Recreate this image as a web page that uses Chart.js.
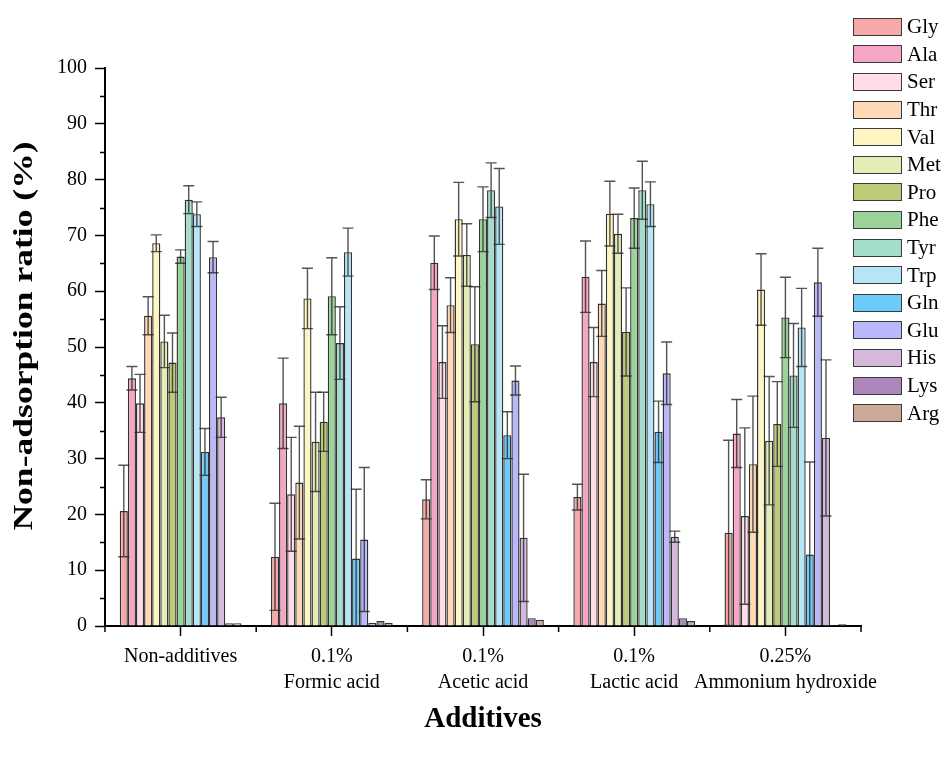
<!DOCTYPE html>
<html lang="en">
<head>
    <meta charset="UTF-8">
    <title>Non-adsorption ratio by additive</title>
    <style>
        body { margin: 0; padding: 0; background: #fff; }
        #wrap { position: relative; width: 944px; height: 765px; }
        #legend { position: absolute; left: 853px; top: 13px; font-family: "Liberation Serif", serif; font-size: 21px; color: #000; }
        .item { display: flex; align-items: center; height: 27.6px; }
        .box { width: 47px; height: 16px; border: 1.5px solid #3a3a3a; margin-right: 5px; }
    </style>
</head>
<body>
<div id="wrap">
    <canvas id="chart" width="944" height="765"></canvas>
    <div id="legend"></div>
</div>
<script src="https://cdn.jsdelivr.net/npm/chart.js"></script>
<script>
// groups on the x axis
const groups = [['Non-additives'], ['0.1%', 'Formic acid'], ['0.1%', 'Acetic acid'], ['0.1%', 'Lactic acid'], ['0.25%', 'Ammonium hydroxide']];
const aminoAcids = ['Gly', 'Ala', 'Ser', 'Thr', 'Val', 'Met', 'Pro', 'Phe', 'Tyr', 'Trp', 'Gln', 'Glu', 'His', 'Lys', 'Arg'];
const colors = ['#f5a9a9', '#f4a6c4', '#ffdce6', '#ffd9b5', '#fff5c2', '#e4edb5', '#bccb7a', '#9bd39a', '#a4ddcc', '#b6e6f5', '#6dcbfa', '#bab8fa', '#d5b8db', '#ac87bc', '#cca898'];

// mean values (%) per group, in amino acid order
const nonAdditives = [20.6, 44.4, 39.9, 55.6, 68.6, 51.0, 47.2, 66.2, 76.4, 73.8, 31.2, 66.1, 37.4, 0.5, 0.5];
const formicAcid   = [12.4, 39.9, 23.6, 25.7, 58.7, 33.0, 36.6, 59.1, 50.7, 67.0, 12.1, 15.5, 0.6, 0.9, 0.6];
const aceticAcid   = [22.7, 65.1, 47.3, 57.5, 72.9, 66.5, 50.5, 72.9, 78.1, 75.2, 34.2, 44.0, 15.8, 1.4, 1.1];
const lacticAcid   = [23.1, 62.6, 47.3, 57.8, 73.9, 70.3, 52.7, 73.1, 78.1, 75.6, 34.8, 45.3, 16.0, 1.4, 0.9];
const ammonium     = [16.7, 34.5, 19.7, 29.0, 60.3, 33.2, 36.2, 55.3, 44.9, 53.5, 12.8, 61.6, 33.7, 0.2, 0.3];

// standard deviations
const nonAdditivesSd = [8.2, 2.1, 5.2, 3.4, 1.5, 4.7, 5.3, 1.2, 2.5, 2.2, 4.2, 2.8, 3.6, 0, 0];
const formicAcidSd   = [9.6, 8.1, 10.2, 10.1, 5.4, 8.9, 5.3, 6.9, 6.5, 4.3, 12.4, 12.9, 0, 0, 0];
const aceticAcidSd   = [3.5, 4.8, 6.5, 4.9, 6.6, 5.6, 10.3, 5.8, 4.9, 6.8, 4.2, 2.6, 11.4, 0, 0];
const lacticAcidSd   = [2.3, 6.4, 6.2, 5.9, 5.8, 3.5, 7.9, 5.4, 5.2, 4.0, 5.5, 5.6, 1.0, 0, 0];
const ammoniumSd     = [16.6, 6.1, 15.8, 12.2, 6.4, 11.5, 7.6, 7.2, 9.3, 7.0, 16.6, 6.1, 14.0, 0, 0];

const means = [nonAdditives, formicAcid, aceticAcid, lacticAcid, ammonium];
const sds = [nonAdditivesSd, formicAcidSd, aceticAcidSd, lacticAcidSd, ammoniumSd];

const serif = 'Liberation Serif';
const yTitleText = 'Non-adsorption ratio (%)';

const datasets = aminoAcids.map((name, i) => ({
    label: name,
    data: means.map(g => g[i]),
    sd: sds.map(g => g[i]),
    backgroundColor: colors[i],
    borderColor: '#333',
    borderWidth: 1.4
}));

// error bars drawn from the dataset sd values
const errorBars = {
    id: 'errorBars',
    afterDatasetsDraw(chart) {
        const ctx = chart.ctx, y = chart.scales.y;
        ctx.save();
        ctx.strokeStyle = 'rgba(40,40,40,0.8)';
        ctx.lineWidth = 1.4;
        chart.data.datasets.forEach((ds, i) => {
            chart.getDatasetMeta(i).data.forEach((bar, j) => {
                const e = ds.sd[j];
                if (!e) return;
                const v = ds.data[j];
                const top = y.getPixelForValue(v + e);
                const bot = y.getPixelForValue(Math.max(v - e, 0));
                ctx.beginPath();
                ctx.moveTo(bar.x, top); ctx.lineTo(bar.x, bot);
                ctx.moveTo(bar.x - 5.5, top); ctx.lineTo(bar.x + 5.5, top);
                ctx.moveTo(bar.x - 5.5, bot); ctx.lineTo(bar.x + 5.5, bot);
                ctx.stroke();
            });
        });
        ctx.restore();
    }
};

// minor ticks on both axes, plus the stretched y title of the original
const extras = {
    id: 'extras',
    afterDraw(chart) {
        const ctx = chart.ctx, x = chart.scales.x, y = chart.scales.y;
        const area = chart.chartArea;
        ctx.save();
        ctx.strokeStyle = '#000';
        ctx.lineWidth = 1.5;
        ctx.beginPath();
        for (let v = 5; v < 100; v += 10) {
            const py = Math.round(y.getPixelForValue(v)) + 0.5;
            ctx.moveTo(area.left - 5, py); ctx.lineTo(area.left, py);
        }
        const step = (x.right - x.left) / groups.length;
        for (let i = 0; i <= groups.length; i++) {
            const px = x.left + i * step;
            ctx.moveTo(px, area.bottom); ctx.lineTo(px, area.bottom + 6);
        }
        ctx.stroke();

        ctx.translate(25, 336);
        ctx.rotate(-Math.PI / 2);
        ctx.scale(1.27, 1);
        ctx.font = 'bold 28px "Liberation Serif"';
        ctx.textAlign = 'center';
        ctx.textBaseline = 'middle';
        ctx.fillStyle = '#000';
        ctx.fillText(yTitleText, 0, 0);
        ctx.restore();
    }
};

new Chart(document.getElementById('chart'), {
    type: 'bar',
    data: { labels: groups, datasets: datasets },
    plugins: [errorBars, extras],
    options: {
        responsive: false,
        animation: false,
        layout: { padding: { top: 68, right: 83, left: 0, bottom: 0 } },
        datasets: { bar: { barPercentage: 1, categoryPercentage: 0.805 } },
        plugins: { legend: { display: false }, tooltip: { enabled: false } },
        scales: {
            x: {
                grid: { drawOnChartArea: false, offset: false, tickLength: 10, tickColor: '#000', tickWidth: 1.5 },
                border: { color: '#000', width: 2 },
                ticks: { color: '#000', font: { family: serif, size: 20, lineHeight: 1.3 }, padding: 8, maxRotation: 0, autoSkip: false },
                title: { display: true, text: 'Additives', color: '#000', font: { family: serif, size: 29, weight: 'bold' }, padding: { top: 0, bottom: 28 } },
                afterFit(scale) { scale.height = 139; }
            },
            y: {
                min: 0, max: 100,
                grid: { drawOnChartArea: false, tickLength: 10, tickColor: '#000', tickWidth: 1.5 },
                border: { color: '#000', width: 2 },
                ticks: { stepSize: 10, color: '#000', font: { family: serif, size: 20 }, padding: 8 },
                afterFit(scale) { scale.width = 105; }
            }
        }
    }
});

// legend built from the same arrays
const legend = document.getElementById('legend');
aminoAcids.forEach((name, i) => {
    legend.innerHTML += `<div class="item"><span class="box" style="background:${colors[i]}"></span>${name}</div>`;
});
</script>
</body>
</html>
